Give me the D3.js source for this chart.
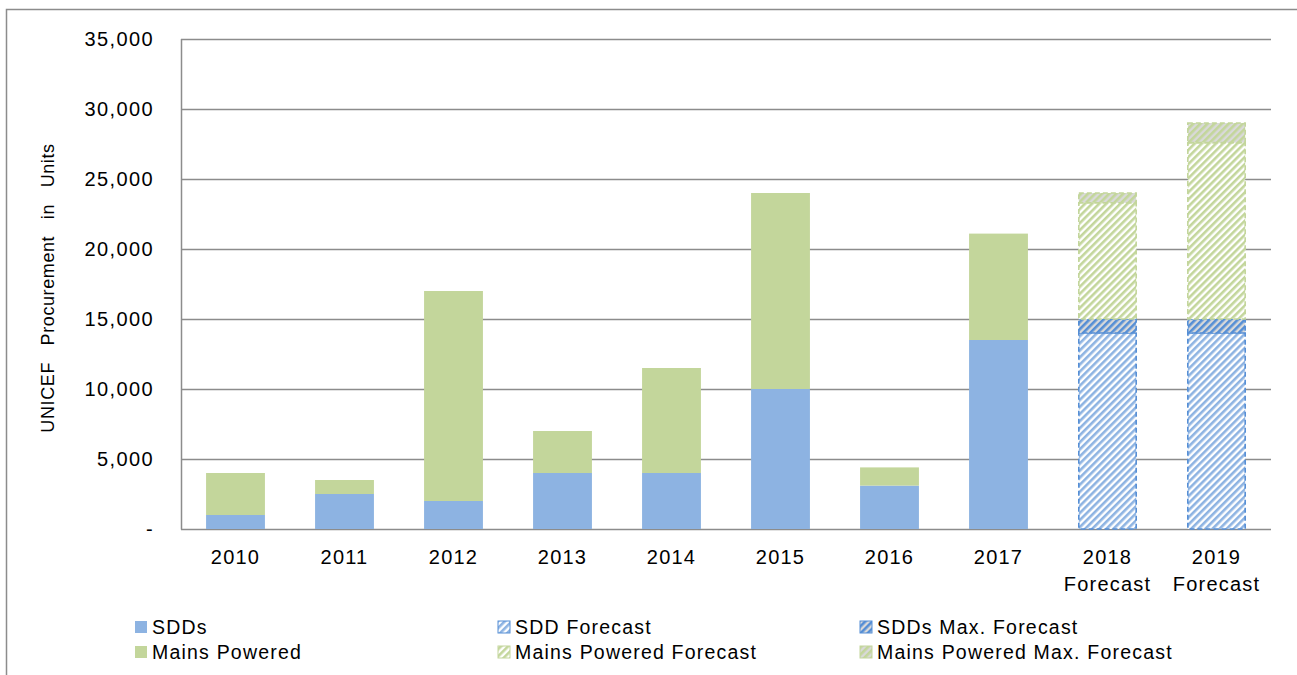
<!DOCTYPE html>
<html>
<head>
<meta charset="utf-8">
<script src="https://cdn.jsdelivr.net/npm/d3@7"></script>
<style>
  html, body { margin: 0; padding: 0; background: #fff; }
  svg { display: block; font-family: "Liberation Sans", Arial, sans-serif; }
</style>
</head>
<body>
<svg id="chart" width="1297" height="675"></svg>
<script>
// ---- Data ----
const categories = ["2010","2011","2012","2013","2014","2015","2016","2017","2018 Forecast","2019 Forecast"];
const sdds          = [1000, 2500, 2000, 4000, 4000, 10000, 3100, 13500, 0, 0];
const mainsPowered  = [3000, 1000, 15000, 3000, 7500, 14000, 1300, 7600, 0, 0];
const sddForecast   = [0, 0, 0, 0, 0, 0, 0, 0, 14000, 14000];
const sddsMax       = [0, 0, 0, 0, 0, 0, 0, 0, 1000, 1000];
const mainsForecast = [0, 0, 0, 0, 0, 0, 0, 0, 8300, 12600];
const mainsMax      = [0, 0, 0, 0, 0, 0, 0, 0, 700, 1400];
const yTicks = [0, 5000, 10000, 15000, 20000, 25000, 30000, 35000];
const seriesNames = ["SDDs","Mains Powered","SDD Forecast","Mains Powered Forecast","SDDs Max. Forecast","Mains Powered Max. Forecast"];

const svg = d3.select("#chart");
const W = 1297, H = 675;
const margin = {left: 181, right: 26, top: 39, bottom: 146};

// outer frame
svg.append("path").attr("d", `M6.5,${H} L6.5,9.5 L${W},9.5`)
  .attr("fill", "none").attr("stroke", "#8c8c8c").attr("stroke-width", 1.5);

// patterns
const defs = svg.append("defs");
function stripes(id, bg, fg) {
  const p = defs.append("pattern").attr("id", id)
    .attr("patternUnits", "userSpaceOnUse").attr("width", 5).attr("height", 5)
    .attr("patternTransform", "rotate(45)");
  p.append("rect").attr("width", 5).attr("height", 5).attr("fill", bg);
  p.append("rect").attr("width", 2.6).attr("height", 5).attr("fill", fg);
}
stripes("pSddF", "#ffffff", "#8DB3E2");
stripes("pSddMax", "#d9d9d9", "#558ED5");
stripes("pMainsF", "#ffffff", "#C3D69B");
stripes("pMainsMax", "#d9d9d9", "#C3D69B");

const keys = ["sdds","mains","sddF","sddMax","mainsF","mainsMax"];
const style = {
  sdds:     {fill: "#8DB3E2", stroke: "none"},
  mains:    {fill: "#C3D69B", stroke: "none"},
  sddF:     {fill: "url(#pSddF)", stroke: "#558ED5", dash: "5,3"},
  sddMax:   {fill: "url(#pSddMax)", stroke: "#558ED5", dash: "5,3"},
  mainsF:   {fill: "url(#pMainsF)", stroke: "#C3D69B", dash: "5,3"},
  mainsMax: {fill: "url(#pMainsMax)", stroke: "#C3D69B", dash: "5,3"}
};

const table = categories.map((c, i) => ({
  cat: c, sdds: sdds[i], mains: mainsPowered[i], sddF: sddForecast[i],
  sddMax: sddsMax[i], mainsF: mainsForecast[i], mainsMax: mainsMax[i]
}));

const x = d3.scaleBand().domain(categories)
  .range([margin.left, W - margin.right]).paddingInner(0.46).paddingOuter(0.23);
const y = d3.scaleLinear().domain([0, 35000]).range([H - margin.bottom, margin.top]);

// gridlines
svg.append("g").selectAll("line").data(yTicks).join("line")
  .attr("x1", margin.left).attr("x2", W - margin.right)
  .attr("y1", d => Math.round(y(d)) + 0.5).attr("y2", d => Math.round(y(d)) + 0.5)
  .attr("stroke", "#8c8c8c").attr("stroke-width", 1.5);

// y axis line
svg.append("line").attr("x1", margin.left + 0.5).attr("x2", margin.left + 0.5)
  .attr("y1", y(35000)).attr("y2", y(0) + 0.5)
  .attr("stroke", "#8c8c8c").attr("stroke-width", 1.5);

// bars
const stack = d3.stack().keys(keys)(table);
const gBars = svg.append("g");
stack.forEach(layer => {
  const st = style[layer.key];
  gBars.append("g").selectAll("rect").data(layer.filter(d => d[1] - d[0] > 0)).join("rect")
    .attr("x", d => x(d.data.cat) + (st.dash ? 0.75 : 0))
    .attr("width", x.bandwidth() - (st.dash ? 1.5 : 0))
    .attr("y", d => y(d[1]))
    .attr("height", d => y(d[0]) - y(d[1]))
    .attr("fill", st.fill)
    .attr("stroke", st.stroke)
    .attr("stroke-width", st.dash ? 1.6 : 0)
    .attr("stroke-dasharray", st.dash || null);
});

// y tick labels
const yFmt = d => d === 0 ? "-" : d3.format(",")(d);
svg.append("g").selectAll("text").data(yTicks).join("text")
  .attr("x", 154).attr("y", d => y(d) + 7)
  .attr("text-anchor", "end").attr("font-size", 20).attr("letter-spacing", 1.4)
  .attr("fill", "#000").text(yFmt);

// x labels
const gx = svg.append("g");
categories.forEach(c => {
  const parts = c.split(" ");
  const t = gx.append("text").attr("x", x(c) + x.bandwidth() / 2)
    .attr("y", 564).attr("text-anchor", "middle").attr("font-size", 20)
    .attr("letter-spacing", 1.2).attr("fill", "#000");
  parts.forEach((p, i) => {
    t.append("tspan").attr("x", x(c) + x.bandwidth() / 2).attr("dy", i === 0 ? 0 : 27).text(p);
  });
});

// y title
svg.append("text")
  .attr("transform", `translate(54,${288}) rotate(-90)`)
  .attr("text-anchor", "middle").attr("font-size", 18)
  .attr("letter-spacing", 0.6).attr("word-spacing", 11)
  .attr("fill", "#000").text("UNICEF Procurement in Units");

// legend
const legendItems = [
  {name: seriesNames[0], fill: "#8DB3E2", col: 0, row: 0},
  {name: seriesNames[1], fill: "#C3D69B", col: 0, row: 1},
  {name: seriesNames[2], fill: "url(#pSddF)", stroke: "#558ED5", col: 1, row: 0},
  {name: seriesNames[3], fill: "url(#pMainsF)", stroke: "#C3D69B", col: 1, row: 1},
  {name: seriesNames[4], fill: "url(#pSddMax)", stroke: "#558ED5", col: 2, row: 0},
  {name: seriesNames[5], fill: "url(#pMainsMax)", stroke: "#C3D69B", col: 2, row: 1}
];
const colX = [135, 498, 860];
const rowY = [627, 652];
const gl = svg.append("g");
legendItems.forEach(it => {
  gl.append("rect").attr("x", colX[it.col]).attr("y", rowY[it.row] - 6)
    .attr("width", 12).attr("height", 12).attr("fill", it.fill)
    .attr("stroke", it.stroke || "none").attr("stroke-width", it.stroke ? 1 : 0);
  gl.append("text").attr("x", colX[it.col] + 17).attr("y", rowY[it.row] + 7)
    .attr("font-size", 19.5).attr("letter-spacing", 1.2).attr("fill", "#000").text(it.name);
});
</script>
</body>
</html>
